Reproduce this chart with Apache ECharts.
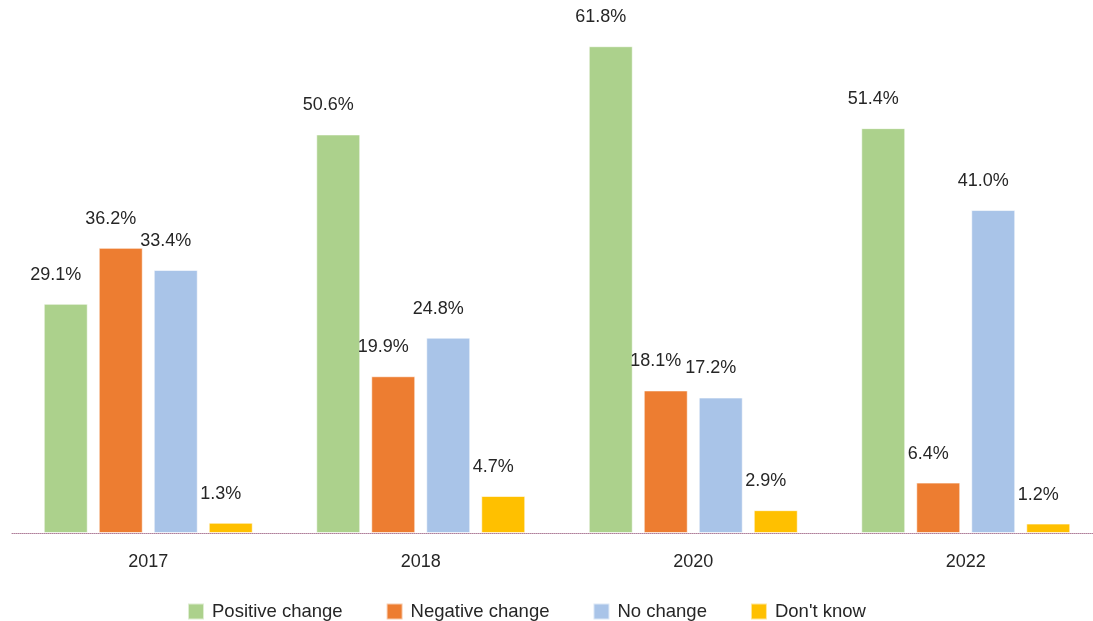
<!DOCTYPE html>
<html>
<head>
<meta charset="utf-8">
<script src="https://cdn.jsdelivr.net/npm/echarts@6/dist/echarts.min.js"></script>
<style>
  html, body { margin: 0; padding: 0; background: #fff; }
  #chart { width: 1093px; height: 621px; }
</style>
</head>
<body>
<div id="chart"></div>
<script>
// Survey years and the share of answers per response type (%)
const years = ['2017', '2018', '2020', '2022'];
const seriesNames = ['Positive change', 'Negative change', 'No change', "Don't know"];
const positiveChange = [29.1, 50.6, 61.8, 51.4];
const negativeChange = [36.2, 19.9, 18.1, 6.4];
const noChange = [33.4, 24.8, 17.2, 41.0];
const dontKnow = [1.3, 4.7, 2.9, 1.2];

const colors = ['#acd18c', '#ed7d31', '#a9c4e8', '#ffc000'];
const values = [positiveChange, negativeChange, noChange, dontKnow];
const FONT = '"Liberation Sans", Arial, sans-serif';
const TEXT = '#262626';

const chart = echarts.init(document.getElementById('chart'));

chart.setOption({
  animation: false,
  color: colors,
  textStyle: { fontFamily: FONT },
  grid: {
    left: 12, width: 1090, top: 21, bottom: 88,
    containLabel: false,
    outerBoundsMode: 'none'
  },
  legend: {
    top: 602,
    left: 187,
    padding: 0,
    itemWidth: 16,
    itemHeight: 16,
    itemGap: 43,
    icon: 'rect',
    textStyle: { fontSize: 18.5, color: TEXT, fontFamily: FONT, padding: [0, 0, 0, 3] },
    data: seriesNames
  },
  xAxis: {
    type: 'category',
    data: years,
    axisLine: { lineStyle: { color: '#b07f9a', type: [1, 1], width: 1 } },
    axisTick: { show: false },
    axisLabel: { fontSize: 18, color: TEXT, margin: 20, fontFamily: FONT }
  },
  yAxis: {
    type: 'value',
    min: 0,
    max: 65,
    show: false,
    splitLine: { show: false }
  },
  series: seriesNames.map((name, i) => ({
    name: name,
    type: 'bar',
    data: values[i],
    barWidth: 44,
    barGap: '25%',
    itemStyle: { color: colors[i], borderColor: 'rgba(255,255,255,0.6)', borderWidth: 1 },
    label: {
      show: true,
      position: 'top',
      distance: 5,
      offset: [-10, -15],
      fontSize: 18,
      color: TEXT,
      fontFamily: FONT,
      formatter: p => p.value.toFixed(1) + '%'
    }
  }))
});
</script>
</body>
</html>
